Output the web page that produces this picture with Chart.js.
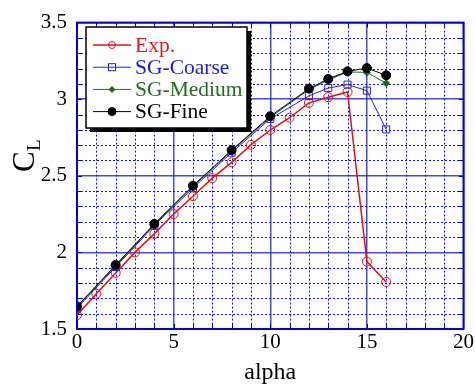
<!DOCTYPE html>
<html>
<head>
<meta charset="utf-8">
<script src="https://cdn.jsdelivr.net/npm/chart.js@4/dist/chart.umd.min.js"></script>
<style>
  html, body { margin: 0; padding: 0; background: #fff; }
  #wrap { width: 475px; height: 385px; }
</style>
</head>
<body>
<div id="wrap"><canvas id="myChart"></canvas></div>
<script>
// data
const alphaExp = [0, 1, 2, 3, 4, 5, 6, 7, 8, 9, 10, 11, 12, 13, 14, 15, 16];
const clExp = [1.59, 1.73, 1.866, 2.0, 2.121, 2.25, 2.367, 2.485, 2.588, 2.702, 2.799, 2.879, 2.976, 3.013, 3.047, 1.94, 1.807];

const alphaSG = [0, 2, 4, 6, 8, 10, 12, 13, 14, 15, 16];
const clCoarse = [1.635, 1.905, 2.175, 2.42, 2.651, 2.872, 3.021, 3.073, 3.095, 3.056, 2.803];
const clMedium = [1.643, 1.913, 2.181, 2.43, 2.662, 2.882, 3.062, 3.125, 3.178, 3.175, 3.104];
const clFine = [1.647, 1.918, 2.186, 2.435, 2.667, 2.889, 3.069, 3.132, 3.182, 3.203, 3.156];

const xTicks = [0, 5, 10, 15, 20];
const yTicks = [1.5, 2, 2.5, 3, 3.5];

const serif = '"Liberation Serif", "DejaVu Serif", serif';

function pts(xs, ys) {
  return xs.map((x, i) => ({ x: x, y: ys[i] }));
}

// dotted minor grid + inner tick marks
const minorGrid = {
  id: 'minorGrid',
  beforeDatasetsDraw(chart) {
    const { ctx, chartArea: a, scales: { x, y } } = chart;
    ctx.save();
    ctx.strokeStyle = '#1010ee';
    ctx.lineWidth = 1;
    ctx.setLineDash([2, 2]);
    for (let v = 1; v < 20; v++) {
      if (v % 5 === 0) continue;
      const px = Math.round(x.getPixelForValue(v)) + 0.5;
      ctx.beginPath(); ctx.moveTo(px, a.top); ctx.lineTo(px, a.bottom); ctx.stroke();
    }
    for (let k = 16; k < 35; k++) {
      if (k % 5 === 0) continue;
      const py = Math.round(y.getPixelForValue(k / 10)) + 0.5;
      ctx.beginPath(); ctx.moveTo(a.left, py); ctx.lineTo(a.right, py); ctx.stroke();
    }
    ctx.setLineDash([]);
    ctx.strokeStyle = '#0000dd';
    for (let v = 1; v < 20; v++) {
      const px = Math.round(x.getPixelForValue(v)) + 0.5;
      ctx.beginPath();
      ctx.moveTo(px, a.top); ctx.lineTo(px, a.top + 5);
      ctx.moveTo(px, a.bottom); ctx.lineTo(px, a.bottom - 5);
      ctx.stroke();
    }
    for (let k = 16; k < 35; k++) {
      const py = Math.round(y.getPixelForValue(k / 10)) + 0.5;
      ctx.beginPath();
      ctx.moveTo(a.left, py); ctx.lineTo(a.left + 5, py);
      ctx.moveTo(a.right, py); ctx.lineTo(a.right - 5, py);
      ctx.stroke();
    }
    // frame
    ctx.lineWidth = 2;
    ctx.strokeStyle = '#0000e6';
    ctx.strokeRect(a.left, a.top, a.right - a.left, a.bottom - a.top);
    ctx.restore();
  }
};

// axis titles and the boxed legend
const decor = {
  id: 'decor',
  afterDraw(chart) {
    const { ctx, chartArea: a } = chart;
    ctx.save();
    ctx.fillStyle = '#000';
    ctx.textBaseline = 'alphabetic';
    ctx.textAlign = 'center';
    ctx.font = '24px ' + serif;
    ctx.fillText('alpha', (a.left + a.right) / 2, 379);

    ctx.translate(34, 160);
    ctx.rotate(-Math.PI / 2);
    ctx.textAlign = 'left';
    ctx.font = '31px ' + serif;
    ctx.fillText('C', -12, 0);
    ctx.font = '19px ' + serif;
    ctx.fillText('L', 9, 6);
    ctx.restore();

    // legend
    const lx = 86, ly = 27, lw = 161, lh = 101;
    ctx.save();
    ctx.fillStyle = '#000';
    ctx.fillRect(lx + 4, ly + 4, lw, lh);
    ctx.fillStyle = '#fff';
    ctx.fillRect(lx, ly, lw, lh);
    ctx.strokeStyle = '#000';
    ctx.lineWidth = 1.5;
    ctx.strokeRect(lx, ly, lw, lh);
    ctx.font = '21.5px ' + serif;
    ctx.textBaseline = 'middle';
    ctx.textAlign = 'left';
    chart.data.datasets.forEach((ds, i) => {
      const yy = 45 + i * 22.2;
      ctx.strokeStyle = ds.borderColor;
      ctx.lineWidth = ds.borderWidth;
      ctx.beginPath(); ctx.moveTo(93, yy); ctx.lineTo(131, yy); ctx.stroke();
      ctx.fillStyle = ds.pointBackgroundColor;
      ctx.strokeStyle = ds.borderColor;
      ctx.lineWidth = 1;
      const cx = 112;
      if (ds.pointStyle === 'circle') {
        ctx.beginPath(); ctx.arc(cx, yy, ds.legendR, 0, Math.PI * 2); ctx.fill(); ctx.stroke();
      } else if (ds.pointStyle === 'rect') {
        ctx.fillRect(cx - 3.5, yy - 3.5, 7, 7); ctx.strokeRect(cx - 3.5, yy - 3.5, 7, 7);
      } else {
        ctx.beginPath();
        ctx.moveTo(cx, yy - 3.5); ctx.lineTo(cx + 3.5, yy); ctx.lineTo(cx, yy + 3.5); ctx.lineTo(cx - 3.5, yy);
        ctx.closePath(); ctx.fill();
      }
      ctx.fillStyle = ds.textColor;
      ctx.fillText(ds.label, 135, yy + 1);
    });
    ctx.restore();
  }
};

const data = {
  datasets: [
    {
      label: 'Exp.',
      data: pts(alphaExp, clExp),
      borderColor: '#e01010',
      textColor: '#e01a1a',
      borderWidth: 1.5,
      pointStyle: 'circle',
      pointRadius: 4.5,
      legendR: 3.5,
      pointBackgroundColor: 'rgba(255,255,255,0)',
      pointBorderColor: '#e01010',
      pointBorderWidth: 1,
      order: 3
    },
    {
      label: 'SG-Coarse',
      data: pts(alphaSG, clCoarse),
      borderColor: '#2020dd',
      textColor: '#1a1ae0',
      borderWidth: 1,
      pointStyle: 'rect',
      pointRadius: 5,
      pointBackgroundColor: 'rgba(255,255,255,0)',
      pointBorderColor: '#2020dd',
      pointBorderWidth: 1,
      order: 2
    },
    {
      label: 'SG-Medium',
      data: pts(alphaSG, clMedium),
      borderColor: '#1a6a1a',
      textColor: '#1f6e1f',
      borderWidth: 1,
      pointStyle: 'rectRot',
      pointRadius: 4,
      pointBackgroundColor: '#1a6a1a',
      pointBorderColor: '#1a6a1a',
      pointBorderWidth: 0,
      order: 1
    },
    {
      label: 'SG-Fine',
      data: pts(alphaSG, clFine),
      borderColor: '#000',
      textColor: '#000',
      borderWidth: 1,
      pointStyle: 'circle',
      pointRadius: 4.5,
      legendR: 4,
      pointBackgroundColor: '#000',
      pointBorderColor: '#000',
      pointBorderWidth: 1,
      order: 0
    }
  ]
};

const config = {
  type: 'line',
  data: data,
  options: {
    responsive: true,
    maintainAspectRatio: false,
    animation: false,
    layout: { padding: { left: 0, top: 21, right: 11, bottom: 0 } },
    plugins: { legend: { display: false }, tooltip: { enabled: false } },
    elements: { line: { tension: 0 } },
    scales: {
      x: {
        type: 'linear',
        min: 0,
        max: 20,
        afterBuildTicks: (s) => { s.ticks = xTicks.map(v => ({ value: v })); },
        afterFit: (s) => { s.height = 56; },
        ticks: { color: '#000', font: { family: serif, size: 21 }, padding: 1, maxRotation: 0, callback: (v) => String(v) },
        grid: { color: 'rgba(40,40,225,0.85)', lineWidth: 1.5, drawTicks: false },
        border: { display: false }
      },
      y: {
        type: 'linear',
        min: 1.5,
        max: 3.5,
        afterBuildTicks: (s) => { s.ticks = yTicks.map(v => ({ value: v })); },
        afterFit: (s) => { s.width = 77; },
        ticks: { color: '#000', font: { family: serif, size: 21 }, padding: 10, callback: (v) => String(v) },
        grid: { color: 'rgba(40,40,225,0.85)', lineWidth: 1.5, drawTicks: false },
        border: { display: false }
      }
    }
  },
  plugins: [minorGrid, decor]
};

const myChart = new Chart(document.getElementById('myChart'), config);
</script>
</body>
</html>
